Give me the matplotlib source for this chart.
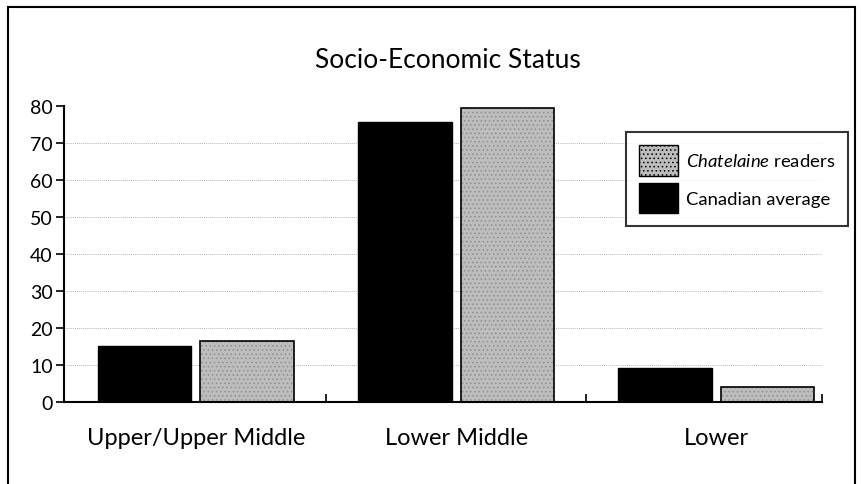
import matplotlib
matplotlib.use("Agg")
import matplotlib.pyplot as plt
from matplotlib.patches import Rectangle, Patch
import numpy as np

plt.rcParams['font.family'] = ['Lato', 'DejaVu Sans']
plt.rcParams['mathtext.fontset'] = 'custom'
plt.rcParams['mathtext.it'] = 'Lato:italic'
plt.rcParams['mathtext.rm'] = 'Lato'
plt.rcParams['hatch.linewidth'] = 0.6

categories = ["Upper/Upper Middle", "Lower Middle", "Lower"]
canadian = [15.2, 75.6, 9.2]
chatelaine = [16.6, 79.4, 4.0]
yticks = [0, 10, 20, 30, 40, 50, 60, 70, 80]

fig = plt.figure(figsize=(8.62, 4.85), dpi=100)
ax = fig.add_axes([0.074, 0.169, 0.88, 0.61])

x = np.arange(len(categories))
w = 0.36
gap = 0.035
off = (w + gap) / 2

for yv in yticks[1:-1]:
    ax.axhline(yv, color='#9a9a9a', lw=0.6, ls=(0, (1, 1.5)), zorder=0)

ax.bar(x - off, canadian, width=w, color='black', edgecolor='black', lw=1, zorder=2)
ax.bar(x + off, chatelaine, width=w, color='#bdbdbd', edgecolor='#8f8f8f', lw=0,
       hatch='....', zorder=2)
ax.bar(x + off, chatelaine, width=w, fill=False, edgecolor='black', lw=1.2, zorder=3)

ax.set_xlim(-0.508, 2.408)
ax.set_ylim(0, 80)
ax.set_yticks(yticks)
ax.set_yticklabels([str(v) for v in yticks], fontsize=14)
ax.tick_params(axis='y', direction='out', length=6, width=1.2, pad=2)
ax.set_xticks([0.5, 1.5, 2.405])
ax.set_xticklabels([])
ax.tick_params(axis='x', direction='in', length=6, width=1.2)
for i, c in enumerate(categories):
    ax.text(x[i], -9.5, c, ha='center', va='center', fontsize=17)

for s in ['top', 'right']:
    ax.spines[s].set_visible(False)
for s in ['left', 'bottom']:
    ax.spines[s].set_linewidth(1.5)

fig.text(0.52, 0.876, "Socio-Economic Status", ha='center', va='center', fontsize=19)

handles = [Patch(facecolor='#bdbdbd', edgecolor='black', hatch='....', lw=1),
           Patch(facecolor='black', edgecolor='black')]
labels = [r"$\mathit{Chatelaine}$ readers", "Canadian average"]
leg = ax.legend(handles, labels, loc='upper right', bbox_to_anchor=(1.034, 0.912),
                fontsize=13.3, frameon=True, fancybox=False, edgecolor='black',
                handlelength=2.1, handleheight=2.2, borderpad=0.7, labelspacing=0.35,
                handletextpad=0.45, borderaxespad=0)
leg.get_frame().set_linewidth(1.5)

fig.patches.append(Rectangle((0.009, -0.01), 0.983, 0.993, transform=fig.transFigure,
                             fill=False, edgecolor='black', lw=1.5))

fig.savefig("out.png", dpi=100)
